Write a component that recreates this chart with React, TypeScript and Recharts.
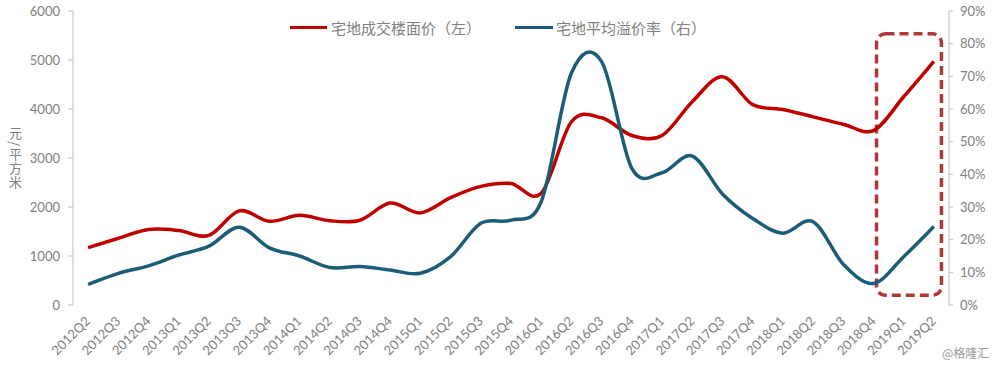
import React from "react";
import {
  LineChart,
  Line,
  XAxis,
  YAxis,
  ReferenceArea,
} from "recharts";

const quarters = [
  "2012Q2", "2012Q3", "2012Q4",
  "2013Q1", "2013Q2", "2013Q3", "2013Q4",
  "2014Q1", "2014Q2", "2014Q3", "2014Q4",
  "2015Q1", "2015Q2", "2015Q3", "2015Q4",
  "2016Q1", "2016Q2", "2016Q3", "2016Q4",
  "2017Q1", "2017Q2", "2017Q3", "2017Q4",
  "2018Q1", "2018Q2", "2018Q3", "2018Q4",
  "2019Q1", "2019Q2",
];

// 宅地成交楼面价 (元/平方米, left axis)
const floorPrice = [
  1170, 1360, 1540, 1520, 1420, 1920, 1710, 1830, 1720, 1730,
  2080, 1880, 2190, 2420, 2480, 2280, 3740, 3820, 3460, 3460,
  4150, 4660, 4090, 3990, 3840, 3690, 3560, 4250, 4970,
];

// 宅地平均溢价率 (%, right axis)
const premiumRate = [
  6.3, 9.7, 12, 15.3, 18, 23.8, 17.5, 15, 11.5, 11.8,
  10.7, 9.7, 14.8, 25, 26, 31.6, 71, 74.5, 41.8, 40.5,
  45.6, 34, 26.5, 22, 25.5, 12.5, 6.6, 14.8, 24,
];

const leftTicks = [0, 1000, 2000, 3000, 4000, 5000, 6000];
const rightTicks = [0, 10, 20, 30, 40, 50, 60, 70, 80, 90];

const RED = "#c00000";
const BLUE = "#1b5c78";
const GREY_TEXT = "#808080";
const AXIS = "#bfbfbf";

const data = quarters.map((q, i) => ({
  idx: i,
  q,
  price: floorPrice[i],
  rate: premiumRate[i],
}));

// tick marks sit between categories, Excel style
const boundaries = [...quarters.map((_, i) => i - 0.5), quarters.length - 0.5];
const centers = quarters.map((_, i) => i);

// Excel-like "smoothed line": Catmull-Rom style bezier through every point
function excelSmooth(context: any) {
  let pts: number[][] = [];
  return {
    areaStart() {},
    areaEnd() {},
    lineStart() {
      pts = [];
    },
    point(x: number, y: number) {
      pts.push([+x, +y]);
    },
    lineEnd() {
      const n = pts.length;
      if (!n) return;
      context.moveTo(pts[0][0], pts[0][1]);
      for (let i = 0; i < n - 1; i++) {
        const p0 = pts[Math.max(i - 1, 0)];
        const p1 = pts[i];
        const p2 = pts[i + 1];
        const p3 = pts[Math.min(i + 2, n - 1)];
        context.bezierCurveTo(
          p1[0] + (p2[0] - p0[0]) / 6,
          p1[1] + (p2[1] - p0[1]) / 6,
          p2[0] - (p3[0] - p1[0]) / 6,
          p2[1] - (p3[1] - p1[1]) / 6,
          p2[0],
          p2[1],
        );
      }
    },
  };
}

function QuarterTick(props: any) {
  const { x, y, payload } = props;
  const label = quarters[payload.value] ?? "";
  return (
    <text
      x={x + 3}
      y={y + 17}
      transform={`rotate(-45, ${x + 3}, ${y + 17})`}
      textAnchor="end"
      fontSize={13}
      fontFamily="Lato, sans-serif"
      fill={GREY_TEXT}
    >
      {label}
    </text>
  );
}

function DashedBox(props: any) {
  const { x, y, width, height } = props;
  return (
    <rect
      x={x}
      y={y}
      width={width}
      height={height}
      rx={9}
      ry={9}
      fill="none"
      stroke="#b0383c"
      strokeWidth={3.5}
      strokeDasharray="9 5"
    />
  );
}

const tickStyle = { fill: GREY_TEXT, fontSize: 13, fontFamily: "Lato, sans-serif" };

export default function App() {
  return (
    <div
      style={{
        position: "absolute",
        left: 0,
        top: 0,
        width: 1000,
        height: 369,
        background: "#fff",
        fontFamily: "'Noto Sans CJK SC', sans-serif",
      }}
    >
      <LineChart
        width={1000}
        height={369}
        data={data}
        margin={{ top: 11, right: 0, left: 13, bottom: 0 }}
      >
        <XAxis
          xAxisId="marks"
          dataKey="idx"
          type="number"
          domain={[-0.5, quarters.length - 0.5]}
          ticks={boundaries}
          interval={0}
          height={0}
          stroke={AXIS}
          tickSize={5}
          tick={() => <g />}
        />
        <XAxis
          xAxisId="main"
          dataKey="idx"
          type="number"
          domain={[-0.5, quarters.length - 0.5]}
          ticks={centers}
          interval={0}
          height={64}
          axisLine={false}
          tickLine={false}
          tickSize={0}
          tickMargin={0}
          tick={<QuarterTick />}
        />
        <YAxis
          yAxisId="left"
          domain={[0, 6000]}
          ticks={leftTicks}
          width={60}
          stroke={AXIS}
          tickSize={5}
          tickMargin={8}
          tick={tickStyle}
        />
        <YAxis
          yAxisId="right"
          orientation="right"
          domain={[0, 90]}
          ticks={rightTicks}
          width={51}
          stroke={AXIS}
          tickSize={4}
          tickMargin={7}
          tick={{ ...tickStyle, textAnchor: "start" }}
          tickFormatter={(v: number) => `${v}%`}
        />
        <Line
          xAxisId="main"
          yAxisId="left"
          type={excelSmooth as any}
          dataKey="price"
          stroke={RED}
          strokeWidth={3.5}
          dot={false}
          isAnimationActive={false}
        />
        <Line
          xAxisId="main"
          yAxisId="right"
          type={excelSmooth as any}
          dataKey="rate"
          stroke={BLUE}
          strokeWidth={3.5}
          dot={false}
          isAnimationActive={false}
        />
        <ReferenceArea
          xAxisId="main"
          yAxisId="right"
          x1={quarters.indexOf("2018Q4") + 0.1}
          x2={quarters.length - 0.75}
          y1={3}
          y2={83}
          ifOverflow="visible"
          shape={<DashedBox />}
        />
      </LineChart>

      {/* legend */}
      <div
        style={{
          position: "absolute",
          top: 17,
          left: 290,
          display: "flex",
          alignItems: "center",
          fontSize: 15,
          color: GREY_TEXT,
          whiteSpace: "nowrap",
        }}
      >
        <span style={{ width: 37, height: 3.5, background: RED, marginRight: 4 }} />
        <span>宅地成交楼面价（左）</span>
        <span style={{ width: 38, height: 3.5, background: BLUE, marginLeft: 34, marginRight: 3 }} />
        <span>宅地平均溢价率（右）</span>
      </div>

      {/* y axis unit, vertical text */}
      <div
        style={{
          position: "absolute",
          left: 7,
          top: 127,
          writingMode: "vertical-rl",
          textOrientation: "mixed",
          fontSize: 13,
          lineHeight: "16px",
          letterSpacing: 1,
          color: GREY_TEXT,
          whiteSpace: "nowrap",
        }}
      >
        元/平方米
      </div>

      {/* watermark */}
      <div
        style={{
          position: "absolute",
          left: 942,
          top: 344,
          fontSize: 12,
          color: "#9a9a9a",
          whiteSpace: "nowrap",
        }}
      >
        @格隆汇
      </div>
    </div>
  );
}
